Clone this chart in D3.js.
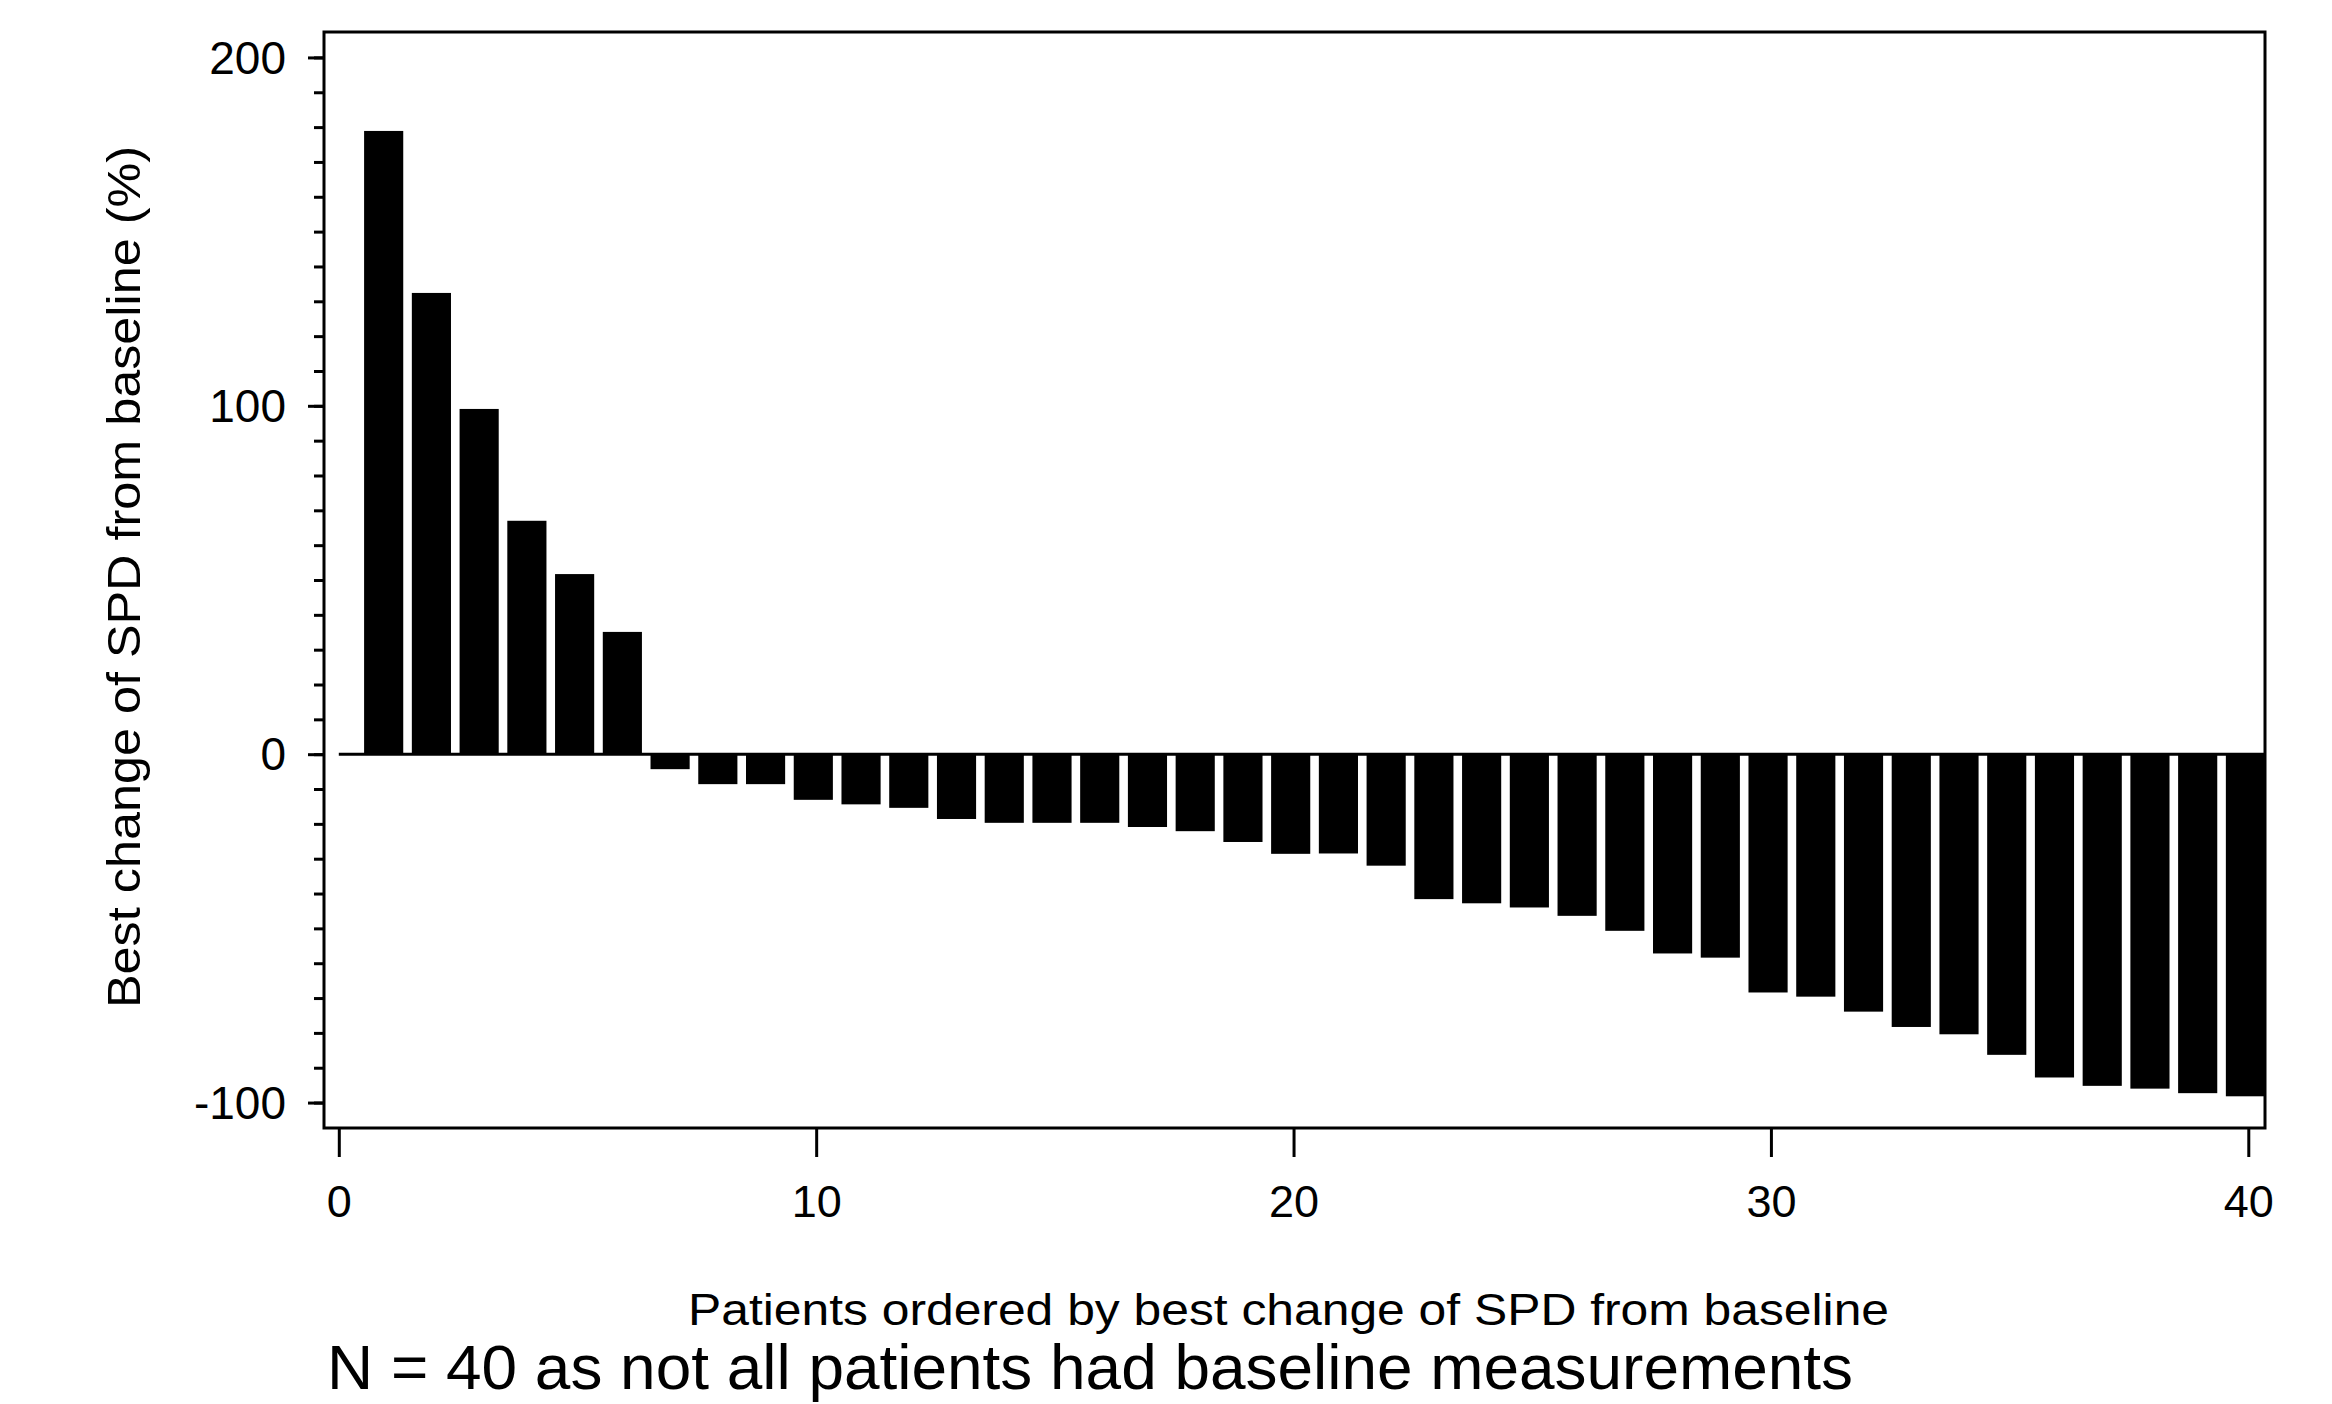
<!DOCTYPE html>
<html>
<head>
<meta charset="utf-8">
<script src="https://cdn.jsdelivr.net/npm/d3@7"></script>
<style>
  body { margin: 0; background: #fff; }
  text { font-family: "Liberation Sans", Arial, sans-serif; fill: #000; }
</style>
</head>
<body>
<div id="chart"></div>
<script>
// patients ordered by best change of SPD, and their best change (%)
const patients = [1, 2, 3, 4, 5, 6, 7, 8, 9, 10, 11, 12, 13, 14, 15, 16, 17, 18, 19, 20,
    21, 22, 23, 24, 25, 26, 27, 28, 29, 30, 31, 32, 33, 34, 35, 36, 37, 38, 39, 40];
const bestChange = [178.9, 132.4, 99.1, 67.0, 51.7, 35.1, -4.3, -8.6, -8.6, -13.1,
    -14.4, -15.4, -18.6, -19.7, -19.7, -19.7, -20.9, -22.1, -25.2, -28.6,
    -28.5, -32.0, -41.6, -42.8, -44.0, -46.4, -50.7, -57.2, -58.4, -68.4,
    -69.6, -73.9, -78.3, -80.4, -86.3, -92.8, -95.2, -96.0, -97.3, -98.2];
const xTicks = [0, 10, 20, 30, 40];
const yTicks = [-100, 0, 100, 200];

const width = 2332, height = 1404;
const frame = { left: 324, right: 2265, top: 32, bottom: 1128 };

const svg = d3.select("#chart").append("svg")
    .attr("width", width)
    .attr("height", height);

const x = d3.scaleLinear()
    .domain([-0.31, 40.35])
    .range([frame.left, frame.right]);

const y = d3.scaleLinear()
    .domain([-107.3, 207.3])
    .range([frame.bottom, frame.top]);

svg.append("clipPath").attr("id", "plot")
    .append("rect")
    .attr("x", frame.left).attr("y", frame.top)
    .attr("width", frame.right - frame.left)
    .attr("height", frame.bottom - frame.top);

// bars
const barW = 0.82;
svg.append("g").attr("clip-path", "url(#plot)")
    .selectAll("rect")
    .data(patients)
    .join("rect")
    .attr("x", (d) => x(d - 0.47))
    .attr("width", (d) => x(d - 0.47 + barW) - x(d - 0.47))
    .attr("y", (d, i) => y(Math.max(0, bestChange[i])))
    .attr("height", (d, i) => Math.abs(y(bestChange[i]) - y(0)))
    .attr("fill", "#000");

// zero line
svg.append("line")
    .attr("x1", x(0)).attr("x2", frame.right)
    .attr("y1", y(0)).attr("y2", y(0))
    .attr("stroke", "#000")
    .attr("stroke-width", 3);

// y axis, minor then major ticks
const minorTicks = [];
for (let v = -100; v <= 200; v += 10) minorTicks.push(v);

svg.append("g")
    .attr("transform", `translate(${frame.left},0)`)
    .call(d3.axisLeft(y).tickValues(minorTicks).tickSize(10).tickSizeOuter(0).tickFormat(""))
    .call(g => g.select(".domain").remove())
    .call(g => g.selectAll("line").attr("stroke-width", 3));

svg.append("g")
    .attr("transform", `translate(${frame.left},0)`)
    .call(d3.axisLeft(y).tickValues(yTicks).tickSize(16).tickSizeOuter(0).tickPadding(22)
        .tickFormat(d => String(d)))   // plain hyphen like the original
    .call(g => g.select(".domain").remove())
    .call(g => g.selectAll("line").attr("stroke-width", 3))
    .call(g => g.selectAll("text")
        .attr("font-size", 46)
        .attr("font-family", "Liberation Sans, Arial, sans-serif")
        .attr("dy", "0.34em"));

// x axis
svg.append("g")
    .attr("transform", `translate(0,${frame.bottom + 1})`)
    .call(d3.axisBottom(x).tickValues(xTicks).tickSize(28).tickSizeOuter(0).tickPadding(28))
    .call(g => g.select(".domain").remove())
    .call(g => g.selectAll("line").attr("stroke-width", 3))
    .call(g => g.selectAll("text")
        .attr("font-size", 45)
        .attr("font-family", "Liberation Sans, Arial, sans-serif")
        .attr("dy", "0.71em"));

// frame
svg.append("rect")
    .attr("x", frame.left).attr("y", frame.top)
    .attr("width", frame.right - frame.left)
    .attr("height", frame.bottom - frame.top)
    .attr("fill", "none")
    .attr("stroke", "#000")
    .attr("stroke-width", 3);

// axis titles
svg.append("text")
    .attr("transform", "translate(140,577) rotate(-90)")
    .attr("text-anchor", "middle")
    .attr("font-size", 47)
    .attr("textLength", 862)
    .attr("lengthAdjust", "spacingAndGlyphs")
    .text("Best change of SPD from baseline (%)");

svg.append("text")
    .attr("x", 688).attr("y", 1325)
    .attr("font-size", 44)
    .attr("textLength", 1201)
    .attr("lengthAdjust", "spacingAndGlyphs")
    .text("Patients ordered by best change of SPD from baseline");

svg.append("text")
    .attr("x", 327).attr("y", 1389)
    .attr("font-size", 63)
    .attr("textLength", 1526)
    .attr("lengthAdjust", "spacingAndGlyphs")
    .text("N = 40 as not all patients had baseline measurements");
</script>
</body>
</html>
